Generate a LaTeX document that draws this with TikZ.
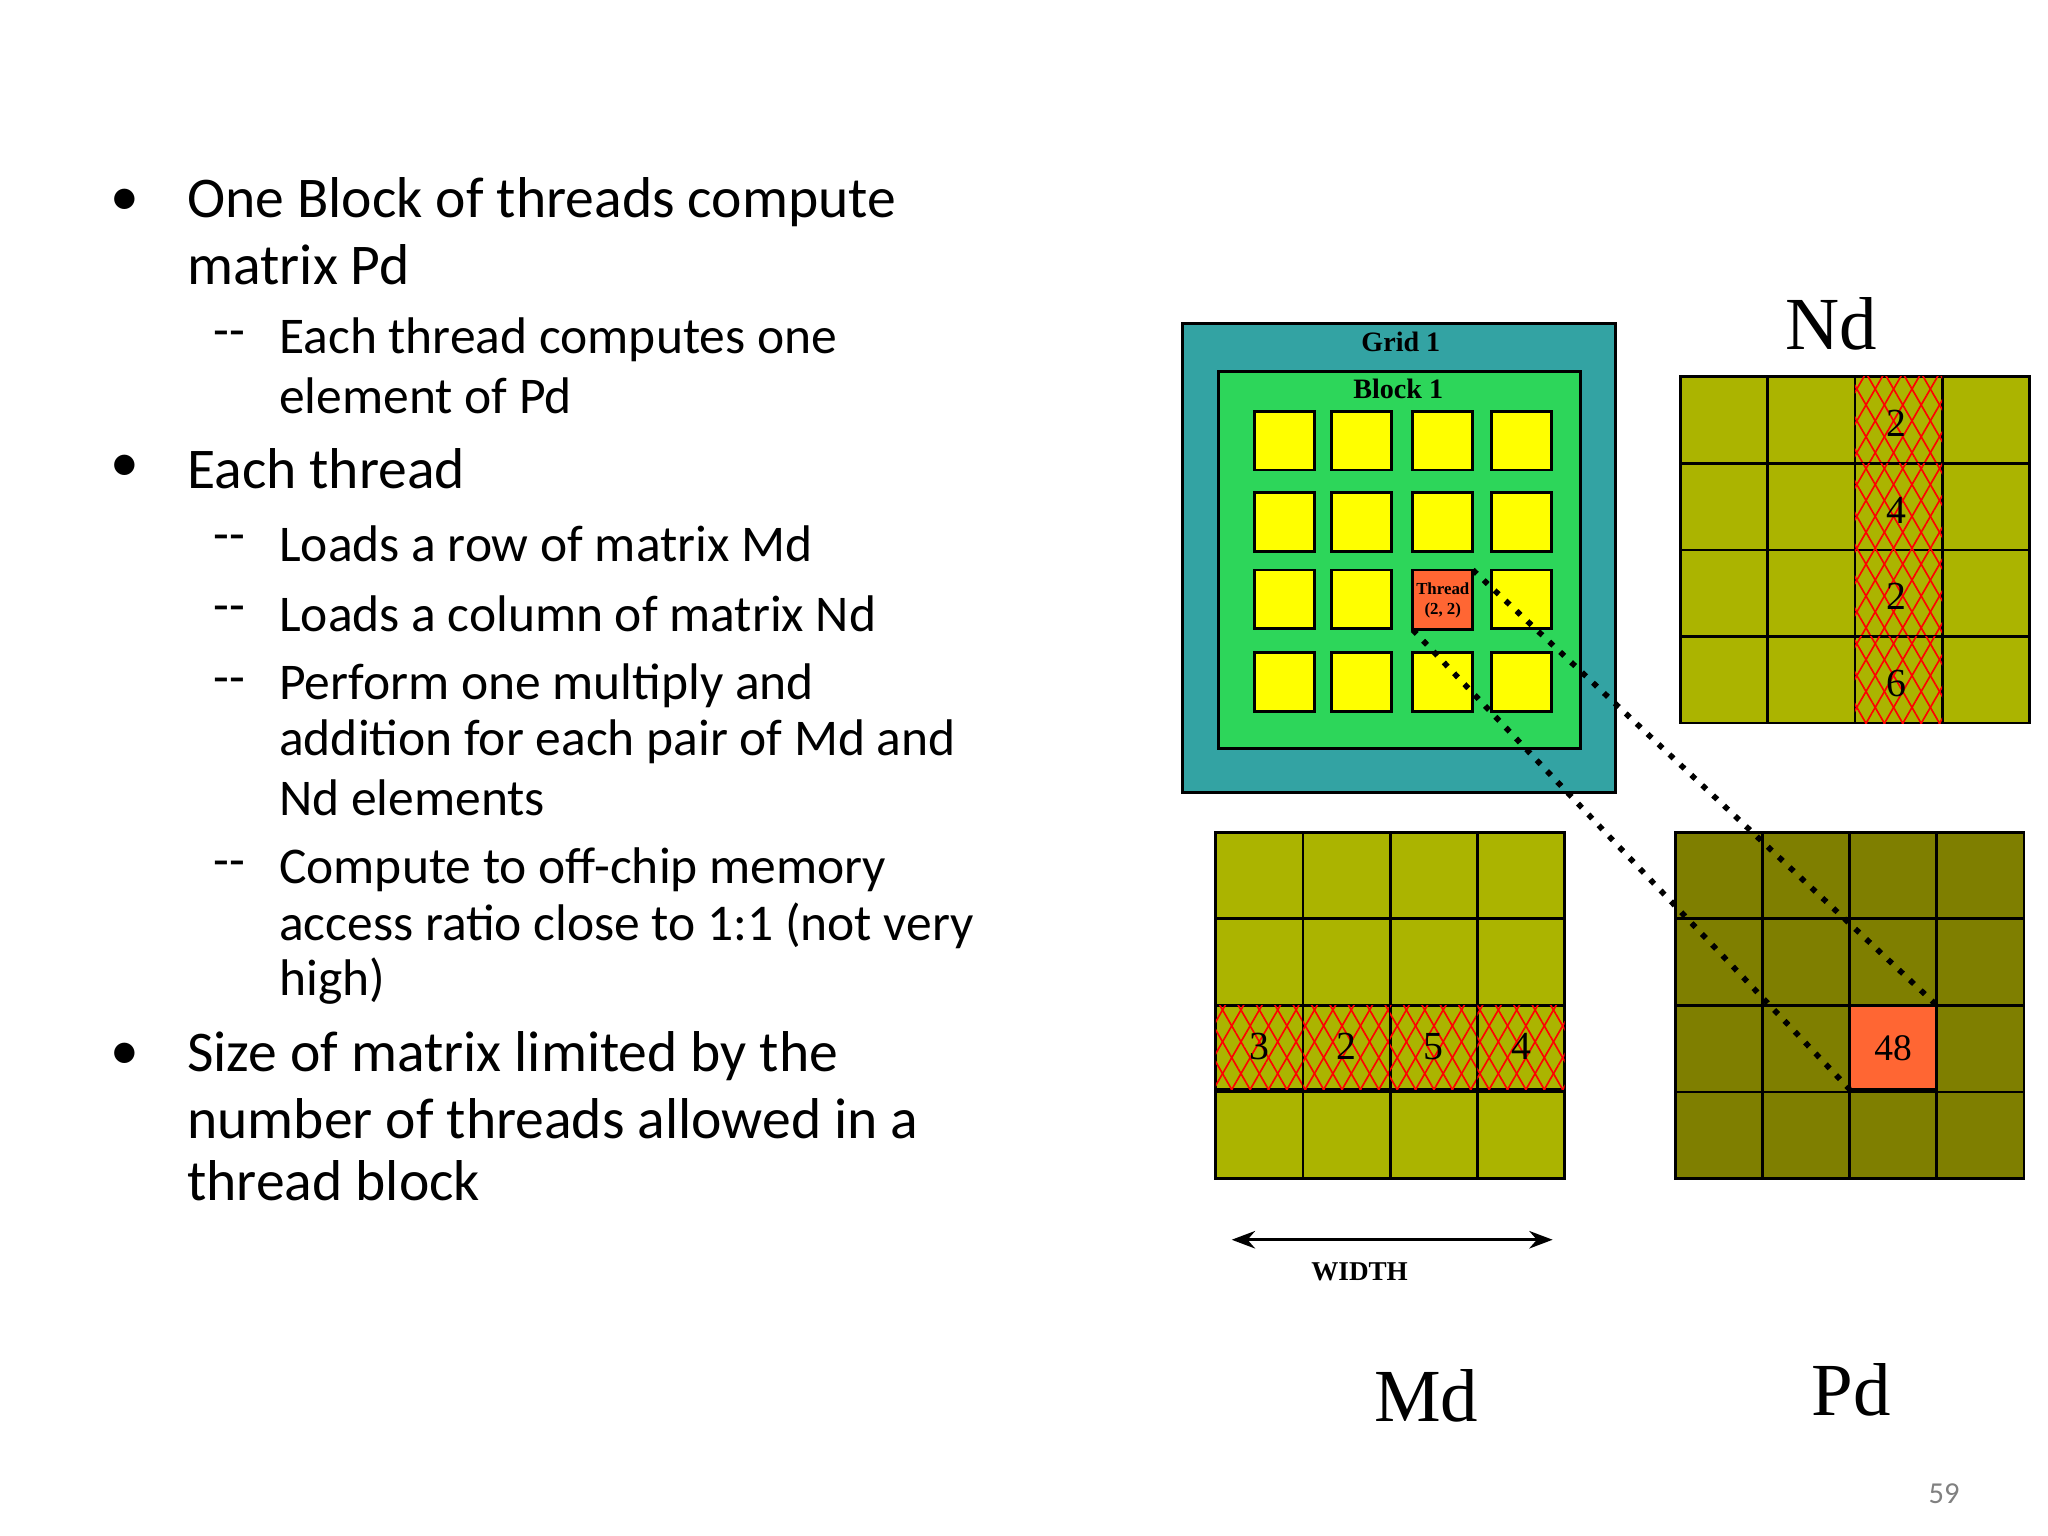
\documentclass[tikz,border=0pt]{standalone}
\usepackage{fontspec}
\setmainfont{Liberation Serif}
\newfontfamily\calfnt{Carlito}
\usetikzlibrary{patterns.meta,arrows.meta}
\definecolor{teal1}{HTML}{33A3A3}
\definecolor{grn}{HTML}{2DD65A}
\definecolor{yel}{HTML}{FFFF00}
\definecolor{org}{HTML}{FF6633}
\definecolor{oli}{HTML}{ABB400}
\definecolor{dol}{HTML}{7F7F00}
\tikzset{
 px/.style={x=0.01cm,y=-0.01cm},
 bul/.style={anchor=west,inner sep=0,font=\calfnt\fontsize{12.3}{14}\selectfont},
 sub/.style={anchor=west,inner sep=0,font=\calfnt\fontsize{11}{13}\selectfont},
 cell/.style={draw=black,line width=0.6pt},
 thr/.style={draw=black,line width=0.6pt,fill=yel},
 hatch/.style={postaction={pattern={Lines[angle=60,distance=3.4pt,line width=0.35pt]},pattern color=red},
               postaction={pattern={Lines[angle=-60,distance=3.4pt,line width=0.35pt]},pattern color=red}},
 big/.style={font=\fontsize{16}{18}\selectfont},
 num/.style={font=\fontsize{8.5}{10}\selectfont,inner sep=0},
}
\begin{document}
\begin{tikzpicture}[px]
\useasboundingbox (0,0) rectangle (1538,1153);
% text
\node[bul] (b1) at (82,152) {•};
\node[bul] (t1) at (140,152) {One Block of threads compute};
\node[bul] (t1b) at (140,199) {matrix Pd};
\node[sub] (d1) at (160,255) {--};
\node[sub] (s1) at (209,255) {Each thread computes one};
\node[sub] (s1b) at (209,297) {element of Pd};
\node[bul] (b2) at (82,352) {•};
\node[bul] (t2) at (140,352) {Each thread};
\node[sub] (d2) at (160,408) {--};
\node[sub] (s2) at (209,408) {Loads a row of matrix Md};
\node[sub] (d3) at (160,461) {--};
\node[sub] (s3) at (209,461) {Loads a column of matrix Nd};
\node[sub] (d4) at (160,515) {--};
\node[sub] (s4) at (209,515) {Perform one multiply and};
\node[sub] (s4b) at (209,557) {addition for each pair of Md and};
\node[sub] (s4c) at (209,599) {Nd elements};
\node[sub] (d5) at (160,653) {--};
\node[sub] (s5) at (209,653) {Compute to off-chip memory};
\node[sub] (s5b) at (209,695) {access ratio close to 1:1 (not very};
\node[sub] (s5c) at (209,737) {high)};
\node[bul] (b3) at (82,793) {•};
\node[bul] (t3) at (140,793) {Size of matrix limited by the};
\node[bul] (t3b) at (140,840) {number of threads allowed in a};
\node[bul] (t3c) at (140,887) {thread block};
\node[font=\calfnt\fontsize{6.5}{8}\selectfont,text=gray] (pg) at (1460,1122) {59};
% grid & block
\draw[cell,fill=teal1] (888,243) rectangle (1213,595);
\node[font=\bfseries\fontsize{6}{7}\selectfont] (g1) at (1052,257) {Grid 1};
\draw[cell,fill=grn] (915,279) rectangle (1187,562);
\node[font=\bfseries\fontsize{6}{7}\selectfont] (bl1) at (1050,292) {Block 1};
\foreach \x in {942,1000,1061,1120}{
 \foreach \y in {309,370,428,490}{
  \draw[thr] (\x,\y) rectangle ++(45,44);
 }}
\draw[cell,fill=org] (1061,428) rectangle ++(45,45);
\node[font=\bfseries\fontsize{3.6}{4.3}\selectfont,align=center,inner sep=0] (th) at (1083.5,451) {Thread\\(2, 2)};
\coordinate (thTR) at (1106,428);
\coordinate (thBL) at (1061,473);
% Nd
\foreach \i in {0,1,2,3}{\foreach \j in {0,1,2,3}{
 \draw[cell,fill=oli] (1262+65.5*\i,283+65*\j) rectangle ++(65.5,65);}}
\foreach \j/\v in {0/2,1/4,2/2,3/6}{
 \draw[cell,fill=oli,hatch] (1393,283+65*\j) rectangle ++(65.5,65);
 \node[num] (nd\j) at (1424,318+65*\j) {\v};}
\node[big] (Nd) at (1375,243) {Nd};
% Md
\foreach \i in {0,1,2,3}{\foreach \j in {0,1,2,3}{
 \draw[cell,fill=oli] (913+65.5*\i,625+65*\j) rectangle ++(65.5,65);}}
\foreach \i/\v in {0/3,1/2,2/5,3/4}{
 \draw[cell,fill=oli,hatch] (913+65.5*\i,755) rectangle ++(65.5,63);
 \node[num] (md\i) at (945.75+65.5*\i,786) {\v};}
\node[big] (Md) at (1071,1048) {Md};
% Pd
\foreach \i in {0,1,2,3}{\foreach \j in {0,1,2,3}{
 \draw[cell,fill=dol] (1258+65.5*\i,625+65*\j) rectangle ++(65.5,65);}}
\draw[cell,fill=org] (1389,755) rectangle ++(65.5,63);
\node[num,font=\fontsize{8}{9}\selectfont] (p48) at (1421.75,787) {48};
\coordinate (pTR) at (1454.5,755);
\coordinate (pBL) at (1389,818);
\node[big] (Pd) at (1390,1044) {Pd};
% dotted
\draw[line width=1.2pt,dotted] (thTR) -- (pTR);
\draw[line width=1.2pt,dotted] (thBL) -- (pBL);
% width
\coordinate (wl) at (925,931);
\coordinate (wr) at (1166,931);
\draw[{Stealth[length=5pt]}-{Stealth[length=5pt]},line width=0.6pt] (wl) -- (wr);
\node[font=\bfseries\fontsize{5.8}{7}\selectfont] (wd) at (1021,955) {WIDTH};
\end{tikzpicture}
\end{document}
